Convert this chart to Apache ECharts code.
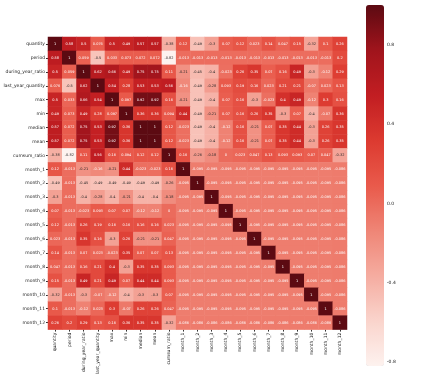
<!DOCTYPE html>
<html>
<head>
<meta charset="utf-8">
<script src="https://cdn.jsdelivr.net/npm/echarts@6/dist/echarts.min.js"></script>
<style>
  html, body { margin: 0; padding: 0; background: #fff; }
  #chart { width: 426px; height: 377px; }
</style>
</head>
<body>
<div id="chart"></div>
<script>
// variable names, same order on both axes
const labels = [
  'quantity', 'period', 'during_year_ratio', 'last_year_quantity', 'max', 'min',
  'median', 'mean', 'cumsum_ratio', 'month_1', 'month_2', 'month_3', 'month_4',
  'month_5', 'month_6', 'month_7', 'month_8', 'month_9', 'month_10', 'month_11', 'month_12'
]

// correlation matrix, one row per variable
const corr = [
  [1, 0.58, 0.5, 0.076, 0.5, 0.49, 0.57, 0.57, -0.38, 0.12, -0.49, -0.3, 0.07, 0.12, 0.023, 0.14, 0.047, 0.15, -0.32, 0.1, 0.26],
  [0.58, 1, 0.059, -0.5, 0.033, 0.073, 0.072, 0.072, -0.82, -0.013, -0.013, -0.013, -0.013, -0.013, -0.013, -0.013, -0.013, -0.013, -0.013, -0.013, 0.2],
  [0.5, 0.059, 1, 0.62, 0.66, 0.49, 0.75, 0.75, 0.11, -0.21, -0.45, -0.4, -0.023, 0.26, 0.35, 0.07, 0.16, 0.49, -0.3, -0.12, 0.29],
  [0.076, -0.5, 0.62, 1, 0.54, 0.28, 0.53, 0.53, 0.56, -0.16, -0.49, -0.28, 0.093, 0.19, 0.16, 0.023, 0.21, 0.21, -0.07, 0.023, 0.13],
  [0.5, 0.033, 0.66, 0.54, 1, 0.097, 0.92, 0.92, 0.16, -0.21, -0.49, -0.4, 0.07, 0.16, -0.3, -0.023, 0.4, 0.49, -0.12, 0.3, 0.16],
  [0.49, 0.073, 0.49, 0.28, 0.097, 1, 0.36, 0.36, 0.094, 0.44, -0.49, -0.21, 0.07, 0.16, 0.26, 0.35, -0.3, 0.07, -0.4, -0.07, 0.36],
  [0.57, 0.072, 0.75, 0.53, 0.92, 0.36, 1, 1, 0.12, -0.023, -0.49, -0.4, -0.12, 0.16, -0.21, 0.07, 0.35, 0.44, -0.3, 0.26, 0.35],
  [0.57, 0.072, 0.75, 0.53, 0.92, 0.36, 1, 1, 0.12, -0.023, -0.49, -0.4, -0.12, 0.16, -0.21, 0.07, 0.35, 0.44, -0.3, 0.26, 0.35],
  [-0.38, -0.82, 0.11, 0.56, 0.16, 0.094, 0.12, 0.12, 1, 0.16, -0.26, -0.18, 0, 0.023, 0.047, 0.13, 0.093, 0.093, 0.07, 0.047, -0.32],
  [0.12, -0.013, -0.21, -0.16, -0.21, 0.44, -0.023, -0.023, 0.16, 1, -0.095, -0.095, -0.095, -0.095, -0.095, -0.095, -0.095, -0.095, -0.095, -0.095, -0.086],
  [-0.49, -0.013, -0.45, -0.49, -0.49, -0.49, -0.49, -0.49, -0.26, -0.095, 1, -0.095, -0.095, -0.095, -0.095, -0.095, -0.095, -0.095, -0.095, -0.095, -0.086],
  [-0.3, -0.013, -0.4, -0.28, -0.4, -0.21, -0.4, -0.4, -0.18, -0.095, -0.095, 1, -0.095, -0.095, -0.095, -0.095, -0.095, -0.095, -0.095, -0.095, -0.086],
  [0.07, -0.013, -0.023, 0.093, 0.07, 0.07, -0.12, -0.12, 0, -0.095, -0.095, -0.095, 1, -0.095, -0.095, -0.095, -0.095, -0.095, -0.095, -0.095, -0.086],
  [0.12, -0.013, 0.26, 0.19, 0.16, 0.16, 0.16, 0.16, 0.023, -0.095, -0.095, -0.095, -0.095, 1, -0.095, -0.095, -0.095, -0.095, -0.095, -0.095, -0.086],
  [0.023, -0.013, 0.35, 0.16, -0.3, 0.26, -0.21, -0.21, 0.047, -0.095, -0.095, -0.095, -0.095, -0.095, 1, -0.095, -0.095, -0.095, -0.095, -0.095, -0.086],
  [0.14, -0.013, 0.07, 0.023, -0.023, 0.35, 0.07, 0.07, 0.13, -0.095, -0.095, -0.095, -0.095, -0.095, -0.095, 1, -0.095, -0.095, -0.095, -0.095, -0.086],
  [0.047, -0.013, 0.16, 0.21, 0.4, -0.3, 0.35, 0.35, 0.093, -0.095, -0.095, -0.095, -0.095, -0.095, -0.095, -0.095, 1, -0.095, -0.095, -0.095, -0.086],
  [0.15, -0.013, 0.49, 0.21, 0.49, 0.07, 0.44, 0.44, 0.093, -0.095, -0.095, -0.095, -0.095, -0.095, -0.095, -0.095, -0.095, 1, -0.095, -0.095, -0.086],
  [-0.32, -0.013, -0.3, -0.07, -0.12, -0.4, -0.3, -0.3, 0.07, -0.095, -0.095, -0.095, -0.095, -0.095, -0.095, -0.095, -0.095, -0.095, 1, -0.095, -0.086],
  [0.1, -0.013, -0.12, 0.023, 0.3, -0.07, 0.26, 0.26, 0.047, -0.095, -0.095, -0.095, -0.095, -0.095, -0.095, -0.095, -0.095, -0.095, -0.095, 1, -0.086],
  [0.26, 0.2, 0.29, 0.13, 0.16, 0.36, 0.35, 0.35, -0.32, -0.086, -0.086, -0.086, -0.086, -0.086, -0.086, -0.086, -0.086, -0.086, -0.086, -0.086, 1]
]

// colour bar ticks
const barTicks = [-0.8, -0.4, 0, 0.4, 0.8]
const vMin = -0.82
const vMax = 1

// reds ramp, tuned to the printed colours
const reds = ['#fdf2ef', '#fad4cc', '#f5aca0', '#ef8576', '#e95a4b', '#dc3a30', '#c21e22', '#a0141c', '#5c0a12']

// seaborn style '.2g' annotation
function fmt(v) {
  return String(parseFloat(v.toPrecision(2)))
}

const data = []
corr.forEach((row, i) => {
  row.forEach((v, j) => {
    data.push({
      value: [j, i, v],
      label: { color: v < -0.17 ? '#262626' : '#ffffff' }
    })
  })
})

const chart = echarts.init(document.getElementById('chart'))
const font = 'DejaVu Sans'

chart.setOption({
  animation: false,
  backgroundColor: '#ffffff',
  grid: [
    { left: 48, top: 37, width: 299, height: 298 },
    { left: 366, top: 5, width: 18, height: 361 }
  ],
  xAxis: [
    {
      type: 'category',
      data: labels,
      gridIndex: 0,
      axisLine: { show: false },
      axisTick: { show: true, length: 2, alignWithLabel: true, lineStyle: { color: '#333' } },
      axisLabel: { rotate: 90, fontSize: 4.5, fontFamily: font, color: '#222', margin: 3, interval: 0 },
      splitLine: { show: false }
    },
    { type: 'value', gridIndex: 1, show: false, min: 0, max: 1 }
  ],
  yAxis: [
    {
      type: 'category',
      data: labels,
      inverse: true,
      gridIndex: 0,
      axisLine: { show: false },
      axisTick: { show: true, length: 2, alignWithLabel: true, lineStyle: { color: '#333' } },
      axisLabel: { fontSize: 4.5, fontFamily: font, color: '#222', margin: 3, interval: 0 },
      splitLine: { show: false }
    },
    {
      type: 'value',
      gridIndex: 1,
      position: 'right',
      min: vMin,
      max: vMax,
      axisLine: { show: false },
      splitLine: { show: false },
      axisTick: { show: true, length: 2, customValues: barTicks, lineStyle: { color: '#333' } },
      axisLabel: {
        fontSize: 4.5, fontFamily: font, color: '#222', margin: 3,
        customValues: barTicks,
        formatter: v => v.toFixed(1)
      }
    }
  ],
  visualMap: {
    type: 'continuous',
    seriesIndex: 0,
    min: vMin,
    max: vMax,
    calculable: false,
    orient: 'vertical',
    left: 366,
    top: 5,
    padding: 0,
    itemWidth: 18,
    itemHeight: 361,
    text: null,
    showLabel: false,
    inRange: { color: reds }
  },
  series: [
    {
      type: 'heatmap',
      xAxisIndex: 0,
      yAxisIndex: 0,
      data: data,
      label: {
        show: true,
        fontSize: 3.5,
        fontFamily: font,
        formatter: p => fmt(p.value[2])
      },
      emphasis: { disabled: true }
    },
    {
      type: 'scatter',
      xAxisIndex: 1,
      yAxisIndex: 1,
      data: [],
      silent: true
    }
  ]
})
</script>
</body>
</html>
